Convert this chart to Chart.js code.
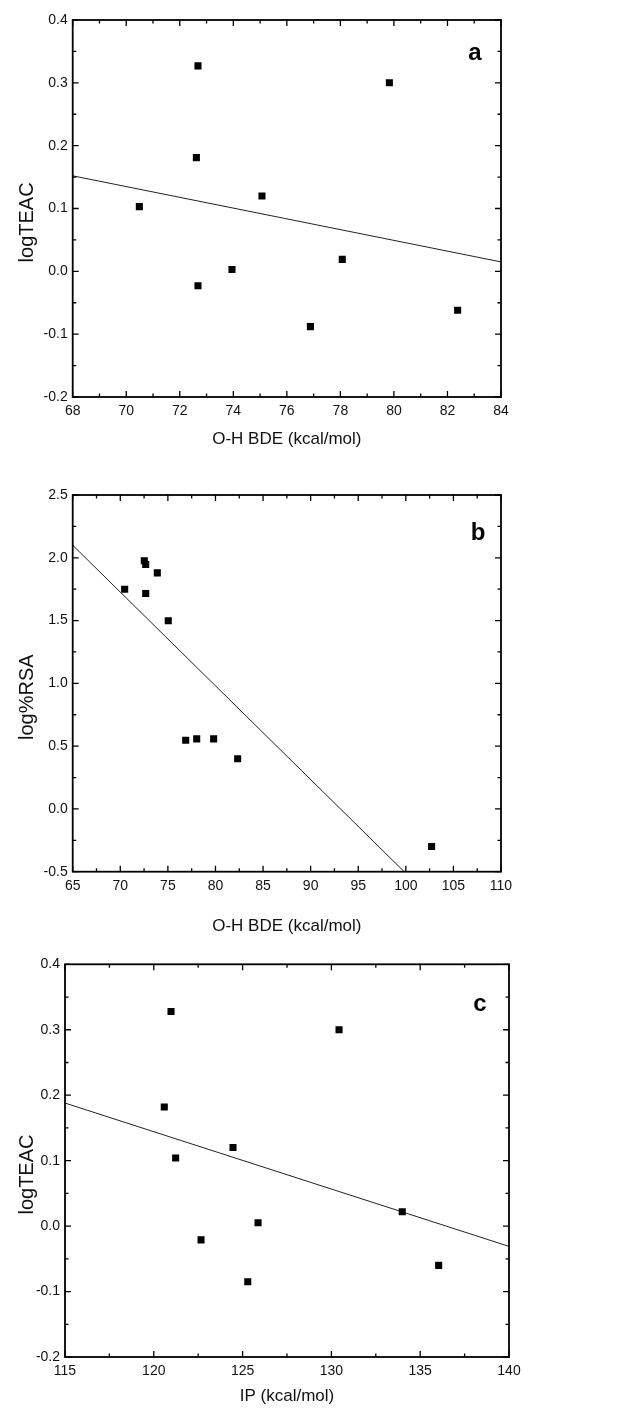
<!DOCTYPE html>
<html>
<head>
<meta charset="utf-8">
<script src="https://cdn.jsdelivr.net/npm/chart.js@4.4.1/dist/chart.umd.min.js"></script>
<style>
body { margin: 0; background: #fff; width: 623px; height: 1414px; position: relative; overflow: hidden; }
canvas { position: absolute; left: 0; }
</style>
</head>
<body>
<canvas id="chartA" width="623" height="470" style="top:0px"></canvas>
<canvas id="chartB" width="623" height="480" style="top:470px"></canvas>
<canvas id="chartC" width="623" height="464" style="top:950px"></canvas>
<script>
// panel a: logTEAC vs O-H BDE
const bdeA = [70.49, 72.62, 72.68, 72.68, 73.95, 75.07, 76.88, 78.07, 79.83, 82.38];
const teacA = [0.103, 0.181, 0.327, -0.023, 0.003, 0.120, -0.088, 0.019, 0.300, -0.062];
const fitAx = [68, 84];
const fitAy = [0.152, 0.015];

// panel b: log%RSA vs O-H BDE
const bdeB = [70.46, 72.52, 72.67, 72.67, 73.89, 75.04, 76.87, 78.03, 79.81, 82.33, 102.71];
const rsaB = [1.75, 1.976, 1.947, 1.716, 1.88, 1.499, 0.547, 0.558, 0.558, 0.399, -0.30];
const fitBx = [65, 99.83];
const fitBy = [2.1, -0.5];

// panel c: logTEAC vs IP
const ipC = [120.59, 120.97, 121.23, 122.66, 124.46, 125.87, 125.29, 130.43, 133.99, 136.04];
const teacC = [0.182, 0.328, 0.104, -0.021, 0.120, 0.005, -0.085, 0.300, 0.022, -0.060];
const fitCx = [115, 140];
const fitCy = [0.188, -0.031];

const FONT = 'Liberation Sans, Arial, sans-serif';

function pts(xs, ys) {
    return xs.map((x, i) => ({x: x, y: ys[i]}));
}

function isMajor(v, step) {
    let r = v / step;
    return Math.abs(r - Math.round(r)) < 1e-6;
}

// box frame, inward ticks on all four sides, panel letter
const framePlugin = {
    id: 'frame',
    afterDraw(chart, args, opts) {
        const ctx = chart.ctx;
        const a = chart.chartArea;
        const xs = chart.scales.x, ys = chart.scales.y;
        ctx.save();
        ctx.strokeStyle = '#000';
        ctx.lineWidth = 1.3;
        ctx.beginPath();
        for (let v = xs.min; v <= xs.max + 1e-9; v += opts.xMinor) {
            let p = xs.getPixelForValue(v);
            let len = isMajor(v - xs.min, opts.xMajor) ? 6 : 3.5;
            ctx.moveTo(p, a.bottom); ctx.lineTo(p, a.bottom - len);
            ctx.moveTo(p, a.top); ctx.lineTo(p, a.top + len);
        }
        for (let v = ys.min; v <= ys.max + 1e-9; v += opts.yMinor) {
            let p = ys.getPixelForValue(v);
            let len = isMajor(v - ys.min, opts.yMajor) ? 6 : 3.5;
            ctx.moveTo(a.left, p); ctx.lineTo(a.left + len, p);
            ctx.moveTo(a.right, p); ctx.lineTo(a.right - len, p);
        }
        ctx.stroke();
        ctx.lineWidth = 1.8;
        ctx.strokeRect(a.left, a.top, a.right - a.left, a.bottom - a.top);
        ctx.fillStyle = '#000';
        ctx.font = 'bold 24px ' + FONT;
        ctx.textAlign = 'center';
        ctx.textBaseline = 'alphabetic';
        ctx.fillText(opts.letter, a.right - opts.letterDx, a.top + opts.letterDy);
        ctx.restore();
    }
};

function makePanel(id, cfg) {
    new Chart(document.getElementById(id), {
        type: 'scatter',
        data: {
            datasets: [
                {
                    data: pts(cfg.xs, cfg.ys),
                    pointStyle: 'rect',
                    pointRadius: 5,
                    pointBorderWidth: 0,
                    backgroundColor: '#000',
                    borderColor: '#000'
                },
                {
                    type: 'line',
                    data: pts(cfg.fitX, cfg.fitY),
                    borderColor: '#222',
                    borderWidth: 1,
                    pointRadius: 0,
                    fill: false
                }]
        },
        options: {
            responsive: false,
            animation: false,
            events: [],
            layout: {padding: {top: cfg.top, right: 623 - cfg.right, bottom: 0, left: 0}},
            plugins: {
                legend: {display: false},
                tooltip: {enabled: false},
                frame: cfg.frame
            },
            scales: {
                x: {
                    type: 'linear',
                    min: cfg.xMin,
                    max: cfg.xMax,
                    grid: {display: false, drawTicks: false},
                    border: {display: false},
                    ticks: {
                        stepSize: cfg.frame.xMajor,
                        padding: 6,
                        color: '#111',
                        font: {family: FONT, size: 14},
                        callback: v => String(v)
                    },
                    title: {
                        display: true,
                        text: cfg.xTitle,
                        color: '#111',
                        font: {family: FONT, size: 17},
                        padding: {top: 0, bottom: cfg.xTitlePad}
                    },
                    afterFit: s => { s.height = cfg.xAxisH; }
                },
                y: {
                    type: 'linear',
                    min: cfg.yMin,
                    max: cfg.yMax,
                    grid: {display: false, drawTicks: false},
                    border: {display: false},
                    ticks: {
                        stepSize: cfg.frame.yMajor,
                        padding: 5,
                        color: '#111',
                        font: {family: FONT, size: 14},
                        callback: v => v.toFixed(1)
                    },
                    title: {
                        display: true,
                        text: cfg.yTitle + '\u00a0\u00a0\u00a0\u00a0\u00a0',
                        color: '#111',
                        font: {family: FONT, size: 20},
                        padding: {top: 15, bottom: 0}
                    },
                    afterFit: s => { s.width = cfg.left; }
                }
            }
        },
        plugins: [framePlugin]
    });
}

makePanel('chartA', {
    xs: bdeA, ys: teacA, fitX: fitAx, fitY: fitAy,
    xMin: 68, xMax: 84, yMin: -0.2, yMax: 0.4,
    top: 20, left: 72.7, right: 501, xAxisH: 73, xTitlePad: 20,
    xTitle: 'O-H BDE (kcal/mol)', yTitle: 'logTEAC',
    frame: {xMajor: 2, xMinor: 1, yMajor: 0.1, yMinor: 0.05, letter: 'a', letterDx: 26, letterDy: 40}
});

makePanel('chartB', {
    xs: bdeB, ys: rsaB, fitX: fitBx, fitY: fitBy,
    xMin: 65, xMax: 110, yMin: -0.5, yMax: 2.5,
    top: 25, left: 72.7, right: 501, xAxisH: 78.3, xTitlePad: 13,
    xTitle: 'O-H BDE (kcal/mol)', yTitle: 'log%RSA',
    frame: {xMajor: 5, xMinor: 2.5, yMajor: 0.5, yMinor: 0.25, letter: 'b', letterDx: 23, letterDy: 45}
});

makePanel('chartC', {
    xs: ipC, ys: teacC, fitX: fitCx, fitY: fitCy,
    xMin: 115, xMax: 140, yMin: -0.2, yMax: 0.4,
    top: 14.3, left: 65, right: 509, xAxisH: 57, xTitlePad: 7,
    xTitle: 'IP (kcal/mol)', yTitle: 'logTEAC',
    frame: {xMajor: 5, xMinor: 2.5, yMajor: 0.1, yMinor: 0.05, letter: 'c', letterDx: 29, letterDy: 47}
});
</script>
</body>
</html>
